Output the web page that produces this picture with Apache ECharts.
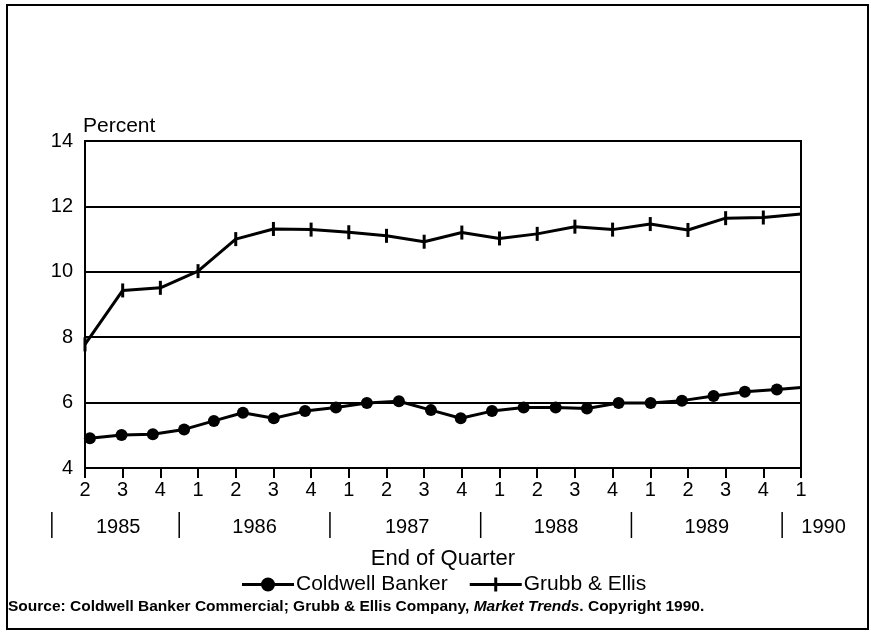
<!DOCTYPE html>
<html>
<head>
<meta charset="utf-8">
<script src="https://cdn.jsdelivr.net/npm/echarts@6/dist/echarts.min.js"></script>
<style>
html,body{margin:0;padding:0;background:#fff;}
#chart{width:871px;height:632px;}
</style>
</head>
<body>
<div id="chart"></div>
<script>
// ---- Data ----
const quarterLabels = ['2','3','4','1','2','3','4','1','2','3','4','1','2','3','4','1','2','3','4','1'];
const grubbValues = [7.78, 9.43, 9.51, 10.02, 11.0, 11.31, 11.29, 11.21, 11.10, 10.92, 11.2, 11.02, 11.16, 11.38, 11.29, 11.46, 11.28, 11.64, 11.66, 11.77];
const coldwellX = [0.13, 0.97, 1.80, 2.63, 3.42, 4.19, 5.01, 5.84, 6.66, 7.48, 8.33, 9.18, 9.97, 10.80, 11.64, 12.49, 13.32, 14.16, 15.01, 15.84, 16.68, 17.51, 18.36, 19.0];
const coldwellValues = [4.91, 5.01, 5.03, 5.18, 5.44, 5.69, 5.52, 5.74, 5.85, 5.99, 6.04, 5.77, 5.52, 5.74, 5.85, 5.85, 5.82, 5.99, 5.99, 6.06, 6.20, 6.33, 6.40, 6.46];
const yearLabels = ['1985','1986','1987','1988','1989','1990'];
const yearCenters = [0.88, 4.5, 8.55, 12.5, 16.5, 19.6];
const yearSeparators = [-0.88, 2.5, 6.5, 10.5, 14.5, 18.5];

const FONT = "'Liberation Sans', Arial, Helvetica, sans-serif";
const chart = echarts.init(document.getElementById('chart'));

const grubbData = grubbValues.map((v, i) => {
  const d = { value: [i, v] };
  if (i === grubbValues.length - 1) d.symbol = 'none';
  return d;
});
const coldwellData = coldwellValues.map((v, i) => {
  const d = { value: [coldwellX[i], v] };
  if (i === coldwellValues.length - 1) d.symbol = 'none';
  return d;
});

const option = {
  backgroundColor: '#fff',
  animation: false,
  textStyle: { fontFamily: FONT, color: '#000' },
  grid: { left: 85, right: 70, top: 141, bottom: 164, show: true, borderColor: '#000', borderWidth: 2, backgroundColor: 'transparent' },
  legend: {
    left: 237, top: 569,
    itemWidth: 52, itemHeight: 14, itemGap: 22,
    textStyle: { fontFamily: FONT, fontSize: 21, color: '#000', padding: [0, 0, 0, -3] },
    data: [
      { name: 'Coldwell Banker', icon: 'path://M0,5.5H52V8.5H0Z M19,7A7,7 0 1,1 33,7A7,7 0 1,1 19,7Z' },
      { name: 'Grubb & Ellis', icon: 'path://M0,5.5H24.5V0H27.5V5.5H52V8.5H27.5V14H24.5V8.5H0Z' }
    ]
  },
  xAxis: {
    type: 'value', min: 0, max: 19, interval: 1,
    name: 'End of Quarter', nameLocation: 'middle', nameGap: 80,
    nameTextStyle: { fontFamily: FONT, fontSize: 22, color: '#000' },
    axisLine: { show: true, lineStyle: { color: '#000', width: 2 } },
    axisTick: { show: true, length: 10, lineStyle: { color: '#000', width: 2 } },
    axisLabel: { fontFamily: FONT, fontSize: 20, color: '#000', margin: 12,
      formatter: v => quarterLabels[Math.round(v)] || '' },
    splitLine: { show: false }
  },
  yAxis: {
    type: 'value', min: 4, max: 14, interval: 2,
    name: 'Percent', nameLocation: 'end', nameGap: 4,
    nameTextStyle: { fontFamily: FONT, fontSize: 21, color: '#000', align: 'left', padding: [0, 0, 0, -2] },
    axisLine: { show: true, lineStyle: { color: '#000', width: 2 } },
    axisTick: { show: false },
    axisLabel: { fontFamily: FONT, fontSize: 20, color: '#000', margin: 12 },
    splitLine: { show: true, lineStyle: { color: '#000', width: 2 } }
  },
  series: [
    {
      name: 'Coldwell Banker', type: 'line', data: coldwellData,
      symbol: 'circle', symbolSize: 12,
      itemStyle: { color: '#000' },
      lineStyle: { color: '#000', width: 3 },
      clip: false
    },
    {
      name: 'Grubb & Ellis', type: 'line', data: grubbData,
      symbol: 'rect', symbolSize: [3, 14],
      itemStyle: { color: '#000' },
      lineStyle: { color: '#000', width: 3 },
      clip: false
    }
  ]
};
chart.setOption(option);

// Year row, frame and source note, positioned through the chart's x scale
const graphics = [];
const yearY = 527;
yearSeparators.forEach(q => {
  const px = chart.convertToPixel({ xAxisIndex: 0 }, q);
  graphics.push({ type: 'line', shape: { x1: px, y1: 512, x2: px, y2: 538 }, style: { stroke: '#000', lineWidth: 1.5 } });
});
yearLabels.forEach((t, i) => {
  const px = chart.convertToPixel({ xAxisIndex: 0 }, yearCenters[i]);
  graphics.push({ type: 'text', x: px, y: yearY, style: { text: t, fontFamily: FONT, fontSize: 20, fill: '#000', align: 'center', verticalAlign: 'middle' } });
});
graphics.push({ type: 'rect', shape: { x: 7, y: 5, width: 861, height: 624 }, style: { fill: 'none', stroke: '#000', lineWidth: 2 }, z: -1 });
graphics.push({
  type: 'text', x: 8, y: 607,
  style: {
    text: '{b|Source: Coldwell Banker Commercial; Grubb & Ellis Company, }{i|Market Trends}{b|. Copyright 1990.}',
    verticalAlign: 'middle',
    rich: {
      b: { fontFamily: FONT, fontSize: 15.5, fontWeight: 'bold', fill: '#000' },
      i: { fontFamily: FONT, fontSize: 15.5, fontWeight: 'bold', fontStyle: 'italic', fill: '#000' }
    }
  }
});
chart.setOption({ graphic: graphics });
</script>
</body>
</html>
